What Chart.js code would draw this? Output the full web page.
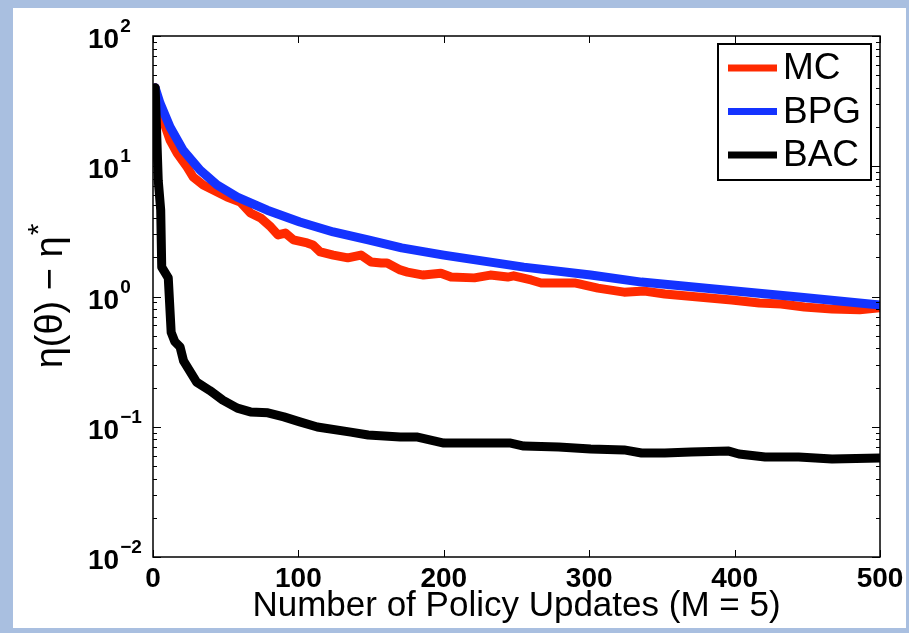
<!DOCTYPE html>
<html>
<head>
<meta charset="utf-8">
<script src="https://cdn.jsdelivr.net/npm/chart.js@4.4.0/dist/chart.umd.min.js"></script>
<style>
body { margin: 0; background: #a9bfe0; }
#frame { position: absolute; left: 13px; top: 8px; width: 893px; height: 620px; background: #fff; }
#wrap { position: absolute; left: 0; top: 0; width: 909px; height: 633px; }
</style>
</head>
<body>
<div id="frame"></div>
<div id="wrap"><canvas id="chart" width="909" height="633"></canvas></div>
<script>
// values (x = policy updates, y = eta(theta) - eta*)
var mcX  = [1.5, 3, 6.2, 11.7, 16.6, 23.4, 27.6, 34.5, 41.4, 51, 60, 67, 74, 81, 86, 91, 96.6, 106, 110, 115, 124, 134, 143, 150, 157, 161, 170, 175, 186, 198, 205, 221, 232, 244, 248, 260, 267, 290, 306, 324, 338, 352, 375, 398, 417, 432, 448, 467, 486, 500]
var mcY  = [40, 30, 23.9, 15.9, 12.6, 9.87, 8.27, 7.18, 6.57, 5.81, 5.32, 4.38, 4.01, 3.42, 2.97, 3.07, 2.72, 2.58, 2.49, 2.2, 2.08, 1.98, 2.08, 1.84, 1.81, 1.81, 1.6, 1.54, 1.46, 1.51, 1.41, 1.39, 1.46, 1.41, 1.44, 1.34, 1.27, 1.27, 1.16, 1.08, 1.10, 1.045, 0.99, 0.94, 0.89, 0.875, 0.83, 0.80, 0.79, 0.82]

var bpgX = [1.5, 4.8, 11.7, 20.7, 32.4, 44, 58, 78.6, 101, 124, 148, 171, 200, 255, 301, 336, 386, 444, 500]
var bpgY = [40, 30.6, 20, 13.3, 9.35, 7.2, 5.8, 4.6, 3.73, 3.13, 2.72, 2.36, 2.08, 1.68, 1.46, 1.29, 1.14, 0.99, 0.86]

var bacX = [1.5, 3.6, 5.3, 6, 10.5, 12.5, 15, 18.6, 21, 30, 39, 48, 58, 67, 79, 90, 101, 113, 136, 148, 170, 182, 200, 221, 246, 255, 279, 301, 324, 336, 352, 370, 396, 403, 421, 444, 467, 500]
var bacY = [40, 7.8, 4.6, 1.68, 1.39, 0.53, 0.45, 0.41, 0.32, 0.22, 0.19, 0.16, 0.139, 0.13, 0.128, 0.119, 0.109, 0.0995, 0.091, 0.0865, 0.0834, 0.0834, 0.075, 0.075, 0.075, 0.0711, 0.070, 0.0675, 0.0664, 0.0629, 0.0629, 0.064, 0.065, 0.0618, 0.0586, 0.0586, 0.0565, 0.0575]

var seriesNames = ["MC", "BPG", "BAC"]
var seriesColors = ["#ff2a00", "#1433ff", "#000000"]

var xTicks = [0, 100, 200, 300, 400, 500]
var yTicks = [0.01, 0.1, 1, 10, 100]
var yTickExp = ["\u22122", "\u22121", "0", "1", "2"]

var xTitle = "Number of Policy Updates (M = 5)"
var yTitle = "\u03b7(\u03b8) \u2212 \u03b7"

var FONT = "'Liberation Sans', Arial, sans-serif"

function pairs(xs, ys) {
    return xs.map(function (x, i) { return {x: x, y: ys[i]} })
}

// box, inward ticks, y labels, y title and legend, MATLAB style
var matlabAxes = {
    id: "matlabAxes",
    afterDraw: function (chart) {
        var ctx = chart.ctx
        var a = chart.chartArea
        var xs = chart.scales.x, ys = chart.scales.y
        ctx.save()
        ctx.strokeStyle = "#000"
        ctx.lineWidth = 1.5
        ctx.strokeRect(a.left, a.top, a.right - a.left, a.bottom - a.top)

        ctx.lineWidth = 1
        ctx.beginPath()
        xTicks.forEach(function (t) {
            var px = Math.round(xs.getPixelForValue(t)) + 0.5
            ctx.moveTo(px, a.bottom); ctx.lineTo(px, a.bottom - 7)
            ctx.moveTo(px, a.top); ctx.lineTo(px, a.top + 7)
        })
        for (var d = 0; d < yTicks.length; d++) {
            var py = Math.round(ys.getPixelForValue(yTicks[d])) + 0.5
            ctx.moveTo(a.left, py); ctx.lineTo(a.left + 8, py)
            ctx.moveTo(a.right, py); ctx.lineTo(a.right - 8, py)
            if (d < yTicks.length - 1) {
                for (var k = 2; k <= 9; k++) {
                    var pm = Math.round(ys.getPixelForValue(k * yTicks[d])) + 0.5
                    ctx.moveTo(a.left, pm); ctx.lineTo(a.left + 4, pm)
                    ctx.moveTo(a.right, pm); ctx.lineTo(a.right - 4, pm)
                }
            }
        }
        ctx.stroke()

        // y tick labels 10^n
        ctx.fillStyle = "#000"
        ctx.textBaseline = "alphabetic"
        ctx.textAlign = "left"
        yTicks.forEach(function (t, i) {
            var py = ys.getPixelForValue(t)
            ctx.font = "bold 28px " + FONT
            ctx.fillText("10", 88, py + 12)
            var w = ctx.measureText("10").width
            ctx.font = "bold 19px " + FONT
            ctx.fillText(yTickExp[i], 88 + w + 1, py - 4)
        })

        // y title, rotated
        ctx.save()
        ctx.translate(62, (a.top + a.bottom) / 2)
        ctx.rotate(-Math.PI / 2)
        ctx.font = "38px " + FONT
        var tw = ctx.measureText(yTitle).width
        ctx.font = "30px " + FONT
        var sw = ctx.measureText("*").width
        var x0 = -(tw + sw) / 2
        ctx.font = "38px " + FONT
        ctx.fillText(yTitle, x0, 0)
        ctx.font = "30px " + FONT
        ctx.fillText("*", x0 + tw + 1, -14)
        ctx.restore()

        // legend
        var lx = a.right - 162, ly = a.top + 8, lw = 153, lh = 136
        ctx.fillStyle = "#fff"
        ctx.fillRect(lx, ly, lw, lh)
        ctx.lineWidth = 2
        ctx.strokeStyle = "#000"
        ctx.strokeRect(lx, ly, lw, lh)
        ctx.font = "37px " + FONT
        ctx.textBaseline = "middle"
        seriesNames.forEach(function (name, i) {
            var yy = ly + 24 + i * 43.5
            ctx.strokeStyle = seriesColors[i]
            ctx.lineWidth = 7
            ctx.beginPath()
            ctx.moveTo(lx + 10, yy); ctx.lineTo(lx + 59, yy)
            ctx.stroke()
            ctx.fillStyle = "#000"
            ctx.fillText(name, lx + 65, yy + 1)
        })
        ctx.restore()
    }
}

new Chart(document.getElementById("chart"), {
    type: "line",
    data: {
        datasets: [
            { label: seriesNames[0], data: pairs(mcX, mcY), borderColor: seriesColors[0], borderWidth: 9, order: 3 },
            { label: seriesNames[1], data: pairs(bpgX, bpgY), borderColor: seriesColors[1], borderWidth: 9, order: 2 },
            { label: seriesNames[2], data: pairs(bacX, bacY), borderColor: seriesColors[2], borderWidth: 9, order: 1 }
        ]
    },
    options: {
        responsive: false,
        animation: false,
        devicePixelRatio: 1,
        datasets: {
            line: { pointRadius: 0, tension: 0, fill: false, borderJoinStyle: "round", borderCapStyle: "round" }
        },
        layout: { padding: { top: 36, right: 29, left: 0, bottom: 0 } },
        plugins: { legend: { display: false }, tooltip: { enabled: false } },
        scales: {
            x: {
                type: "linear",
                min: 0, max: 500,
                afterFit: function (s) { s.height = 76 },
                afterBuildTicks: function (s) { s.ticks = xTicks.map(function (v) { return {value: v} }) },
                grid: { display: false, drawTicks: false },
                border: { display: false },
                ticks: { font: { family: FONT, size: 28, weight: "bold" }, color: "#000", padding: 5, maxRotation: 0 },
                title: { display: true, text: xTitle, color: "#000", font: { family: FONT, size: 35 }, padding: { top: 0, bottom: 6 } }
            },
            y: {
                type: "logarithmic",
                min: 0.01, max: 100,
                afterFit: function (s) { s.width = 153 },
                grid: { display: false, drawTicks: false },
                border: { display: false },
                ticks: { display: false }
            }
        }
    },
    plugins: [matlabAxes]
});
</script>
</body>
</html>
